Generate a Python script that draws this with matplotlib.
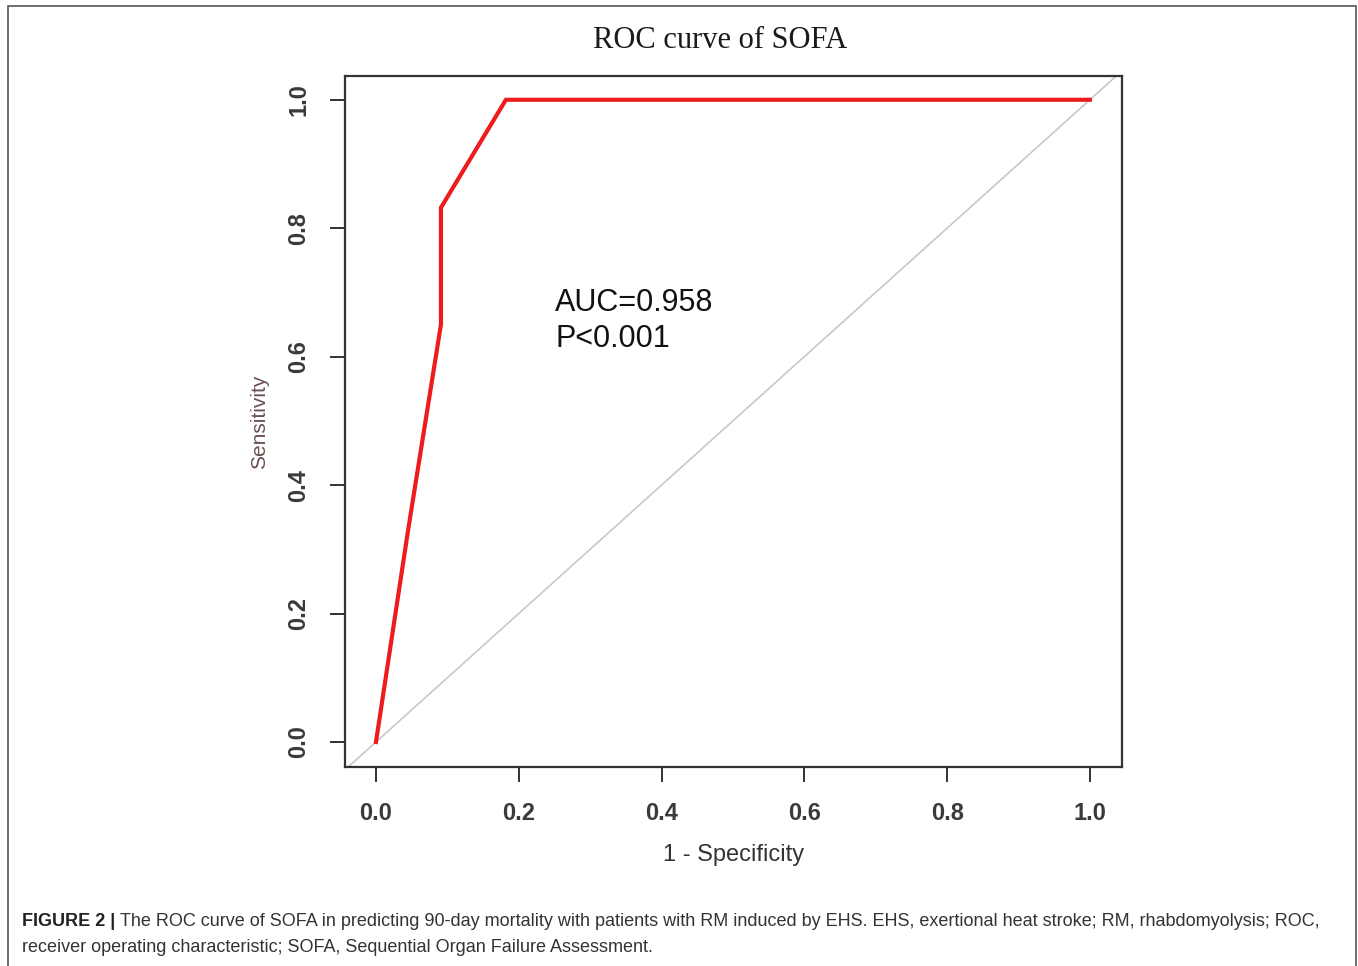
import matplotlib
matplotlib.use('Agg')
import matplotlib.pyplot as plt
from matplotlib.patches import Rectangle

# ROC points (1 - specificity, sensitivity)
fpr = [0.0, 0.045, 0.091, 0.091, 0.182, 1.0]
tpr = [0.0, 0.33, 0.65, 0.832, 1.0, 1.0]
ticks = [0.0, 0.2, 0.4, 0.6, 0.8, 1.0]
tick_labels = ['0.0', '0.2', '0.4', '0.6', '0.8', '1.0']
auc_text = 'AUC=0.958\nP<0.001'
caption_bold = 'FIGURE 2 |'
caption_1 = ('The ROC curve of SOFA in predicting 90-day mortality with patients with RM induced '
             'by EHS. EHS, exertional heat stroke; RM, rhabdomyolysis; ROC,')
caption_2 = 'receiver operating characteristic; SOFA, Sequential Organ Failure Assessment.'

W, H = 1358, 966
fig = plt.figure(figsize=(W / 100, H / 100), dpi=100)
fig.patch.set_facecolor('white')

# outer frame of the figure panel
fig.patches.append(Rectangle((8 / W, -0.01), (1356 - 8) / W, (H - 6) / H + 0.01,
                             transform=fig.transFigure, fill=False,
                             edgecolor='#555555', linewidth=1.2))

ax = fig.add_axes([345 / W, (H - 767) / H, (1122 - 345) / W, (767 - 76) / H])
ax.set_xlim(-0.0434, 1.045)
ax.set_ylim(-0.039, 1.037)

ax.axline((0, 0), (1, 1), color='#c8c8c8', linewidth=1.2, zorder=1)
ax.plot(fpr, tpr, color='#ee1c1c', linewidth=3, solid_joinstyle='miter', zorder=2)

for s in ax.spines.values():
    s.set_linewidth(1.6)
    s.set_color('#333333')

ax.set_xticks(ticks)
ax.set_xticklabels(tick_labels)
ax.set_yticks(ticks)
ax.set_yticklabels(tick_labels, rotation=90, va='center')
ax.tick_params(axis='both', length=11, width=1.4, color='#333333',
               labelsize=17, labelcolor='#3a3a3a', pad=14)
for lab in ax.get_xticklabels() + ax.get_yticklabels():
    lab.set_fontfamily('Liberation Sans')
    lab.set_fontweight('bold')

ax.set_xlabel('1 - Specificity', fontsize=17, color='#333333',
              family='Liberation Sans', va='center')
ax.xaxis.set_label_coords(0.5, -(855 - 767) / (767 - 76))
ax.set_ylabel('Sensitivity', fontsize=15, color='#6b5050',
              family='Liberation Sans', va='center')
ax.yaxis.set_label_coords(-(345 - 260) / (1122 - 345), 0.5)

ax.text(0.251, 0.655, auc_text, fontsize=22, color='#111111', family='Liberation Sans',
        ha='left', va='center', linespacing=1.25)

fig.text(720 / W, (H - 41) / H, 'ROC curve of SOFA', fontsize=22,
         family='Liberation Serif', color='#1a1a1a', ha='center', va='center')

# caption below the chart
tb = fig.text(22 / W, (H - 922) / H, caption_bold, fontsize=13, weight='bold',
              family='Liberation Sans', color='#222222', va='center')
fig.canvas.draw()
bb = tb.get_window_extent()
fig.text((bb.x1 + 5) / W, (H - 922) / H, caption_1, fontsize=13,
         family='Liberation Sans', color='#333333', va='center')
fig.text(22 / W, (H - 947) / H, caption_2, fontsize=13,
         family='Liberation Sans', color='#333333', va='center')

fig.savefig('out.png', dpi=100)
